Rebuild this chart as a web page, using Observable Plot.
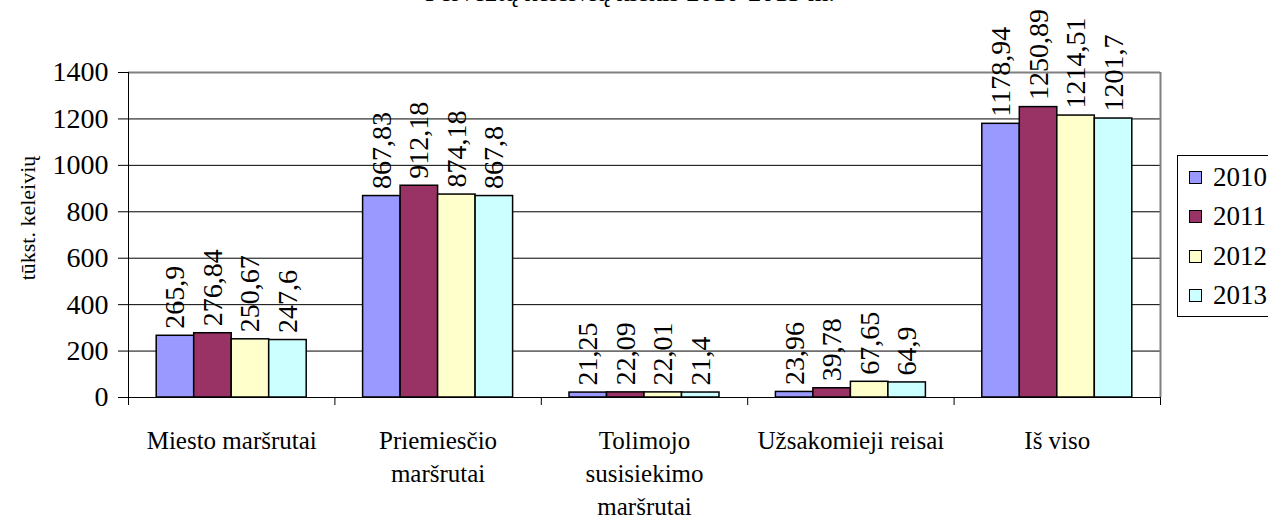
<!DOCTYPE html>
<html><head><meta charset="utf-8">
<script src="https://cdn.jsdelivr.net/npm/d3@7"></script>
<script src="https://cdn.jsdelivr.net/npm/@observablehq/plot@0.6"></script>
<style>
body{margin:0;background:#fff;}
#wrap{position:relative;width:1268px;height:521px;overflow:hidden;font-family:"Liberation Serif","Times New Roman",serif;color:#000;}
#chart{position:absolute;left:0;top:0;}
#title{position:absolute;left:0;top:-21px;width:1260px;text-align:center;font-size:26.5px;line-height:26px;white-space:nowrap;}
#ylabel{position:absolute;left:28px;top:218px;transform:translate(-50%,-50%) rotate(-90deg);font-size:22px;line-height:24px;white-space:nowrap;}
#legend{position:absolute;left:1177px;top:155px;width:130px;height:162px;border:1px solid #000;background:#fff;box-sizing:border-box;}
.li{position:absolute;left:11px;height:30px;display:flex;align-items:center;font-size:27px;}
.sw{width:11px;height:11px;border:1px solid #000;margin-right:11px;}
</style></head><body>
<div id="wrap"><div id="chart"></div><div id="title"></div><div id="ylabel"></div><div id="legend"></div></div>
<script>
const title = "Pervežtų keleivių kiekis 2010-2013 m.";
const yLabel = "tūkst. keleivių";
const categories = ["Miesto maršrutai", "Priemiesčio maršrutai", "Tolimojo susisiekimo maršrutai", "Užsakomieji reisai", "Iš viso"];
const categoryLabels = ["Miesto maršrutai", "Priemiesčio\nmaršrutai", "Tolimojo\nsusisiekimo\nmaršrutai", "Užsakomieji reisai", "Iš viso"];
const years = ["2010", "2011", "2012", "2013"];
const values2010 = [265.9, 867.83, 21.25, 23.96, 1178.94];
const values2011 = [276.84, 912.18, 22.09, 39.78, 1250.89];
const values2012 = [250.67, 874.18, 22.01, 67.65, 1214.51];
const values2013 = [247.6, 867.8, 21.4, 64.9, 1201.7];
const yTicks = [0, 200, 400, 600, 800, 1000, 1200, 1400];
const colors = ["#9999FF", "#993366", "#FFFFCC", "#CCFFFF"];

const series = [values2010, values2011, values2012, values2013];
const barW = 37.5 / 206.4;              // bar width as fraction of a category slot
const groupOff = (1 - years.length * barW) / 2;
const data = [];
categories.forEach((c, ci) => {
  years.forEach((yr, yi) => {
    const v = series[yi][ci];
    const x1 = ci + groupOff + yi * barW;
    data.push({cat: c, year: yr, value: v, x1, x2: x1 + barW, xm: x1 + barW / 2,
               label: String(v).replace(".", ",")});
  });
});
const catIdx = d3.range(categories.length);

const font = '"Liberation Serif","Times New Roman",serif';
const chart = Plot.plot({
  width: 1268, height: 521,
  marginLeft: 128, marginRight: 108, marginTop: 72, marginBottom: 124,
  style: {fontFamily: font, background: "transparent", color: "#000"},
  x: {domain: [0, categories.length], axis: null},
  y: {domain: [0, 1400], axis: null},
  color: {domain: years, range: colors},
  marks: [
    Plot.ruleY(yTicks.filter(t => t > 0 && t < 1400), {stroke: "#000", strokeWidth: 1}),
    Plot.ruleY([1400], {stroke: "#808080", strokeWidth: 2}),
    Plot.ruleX([categories.length], {stroke: "#808080", strokeWidth: 2}),
    Plot.rectY(data, {x1: "x1", x2: "x2", y: "value", fill: "year", stroke: "#000", strokeWidth: 1.5}),
    Plot.ruleY([0], {stroke: "#000", strokeWidth: 1}),
    Plot.ruleX([0], {stroke: "#000", strokeWidth: 1}),
    Plot.axisY({ticks: yTicks, tickSize: 10, tickPadding: 10, fontSize: 28, fontFamily: font, label: null, tickFormat: d => String(d)}),
    Plot.axisX({ticks: d3.range(categories.length + 1), tickSize: 8, tickFormat: () => "", label: null}),
    Plot.axisX({ticks: catIdx.map(i => i + 0.5), tickSize: 0, tickPadding: 28, fontSize: 25, fontFamily: font, lineHeight: 1.32,
                tickFormat: d => categoryLabels[Math.round(d - 0.5)], label: null}),
    Plot.text(data, {x: "xm", y: "value", text: "label", rotate: -90, textAnchor: "start", dy: -7, fontSize: 28, fontFamily: font})
  ]
});
document.getElementById("chart").appendChild(chart);
document.getElementById("title").textContent = title;
document.getElementById("ylabel").textContent = yLabel;

const leg = document.getElementById("legend");
years.forEach((yr, i) => {
  const it = document.createElement("div");
  it.className = "li";
  it.style.top = (6 + i * 39.5) + "px";
  const sw = document.createElement("div");
  sw.className = "sw";
  sw.style.background = colors[i];
  const t = document.createElement("span");
  t.textContent = yr;
  it.appendChild(sw); it.appendChild(t);
  leg.appendChild(it);
});
</script>
</body></html>
